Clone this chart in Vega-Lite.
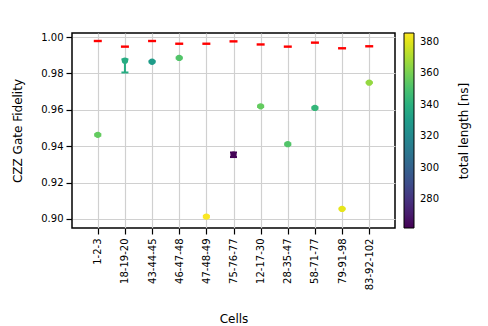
{
  "$schema": "https://vega.github.io/schema/vega-lite/v6.json",
  "autosize": "none",
  "width": 323,
  "height": 195,
  "padding": {"left": 72, "top": 33, "right": 93, "bottom": 98},
  "background": "white",
  "config": {
    "font": "DejaVu Sans",
    "view": {"stroke": "black", "strokeWidth": 1.5},
    "axis": {"labelFont": "DejaVu Sans", "titleFont": "DejaVu Sans", "labelColor": "black", "titleColor": "black", "titleFontWeight": "normal", "tickColor": "black", "domain": false, "gridColor": "#d0d0d0", "gridWidth": 1.2},
    "axisY": {"title": "CZZ Gate Fidelity", "titleFontSize": 12, "titlePadding": 16, "labelFontSize": 10, "labelPadding": 3,
            "values": [0.895, 0.9, 0.905, 0.91, 0.915, 0.92, 0.925, 0.93, 0.935, 0.94, 0.945, 0.95, 0.955, 0.96, 0.965, 0.97, 0.975, 0.98, 0.985, 0.99, 0.995, 1.0],
            "labelExpr": "abs(datum.value*50 - round(datum.value*50)) < 0.001 ? format(datum.value, '.2f') : ''",
            "tickSize": {"condition": {"test": "abs(datum.value*50 - round(datum.value*50)) < 0.001", "value": 6}, "value": 3},
            "tickWidth": 1.2},
    "legend": {"labelFont": "DejaVu Sans", "titleFont": "DejaVu Sans"}
  },
  "data": {"values": [
    {"cell": "1-2-3", "fid": 0.9462, "lo": 0.9458, "hi": 0.9466, "len": 356, "ideal": 0.9978},
    {"cell": "18-19-20", "fid": 0.9870, "lo": 0.9805, "hi": 0.9877, "len": 338, "ideal": 0.9947},
    {"cell": "43-44-45", "fid": 0.9864, "lo": 0.9861, "hi": 0.9868, "len": 330, "ideal": 0.9978},
    {"cell": "46-47-48", "fid": 0.9885, "lo": 0.9882, "hi": 0.9888, "len": 352, "ideal": 0.9963},
    {"cell": "47-48-49", "fid": 0.9013, "lo": 0.9008, "hi": 0.9017, "len": 385, "ideal": 0.9963},
    {"cell": "75-76-77", "fid": 0.9353, "lo": 0.9340, "hi": 0.9365, "len": 262, "ideal": 0.9976},
    {"cell": "12-17-30", "fid": 0.9619, "lo": 0.9615, "hi": 0.9623, "len": 356, "ideal": 0.9959},
    {"cell": "28-35-47", "fid": 0.9411, "lo": 0.9407, "hi": 0.9415, "len": 352, "ideal": 0.9947},
    {"cell": "58-71-77", "fid": 0.9610, "lo": 0.9606, "hi": 0.9614, "len": 344, "ideal": 0.9969},
    {"cell": "79-91-98", "fid": 0.9055, "lo": 0.9053, "hi": 0.9058, "len": 381, "ideal": 0.9938},
    {"cell": "83-92-102", "fid": 0.9749, "lo": 0.9747, "hi": 0.9752, "len": 366, "ideal": 0.9949}
  ]},
  "encoding": {
    "x": {"field": "cell", "type": "ordinal", "sort": null,
      "scale": {"type": "point", "padding": 0.95},
      "axis": {"title": "Cells", "titleFontSize": 12, "titlePadding": 24, "labelAngle": -90, "labelFontSize": 10, "labelPadding": 4, "tickSize": 6, "tickWidth": 1.2, "grid": true}},
    "color": {"field": "len", "type": "quantitative",
      "scale": {"scheme": "viridis", "domain": [261.5, 385.7], "nice": false},
      "legend": {"type": "gradient", "direction": "vertical", "title": "total length [ns]", "titleOrient": "right", "titleAnchor": "middle", "titlePadding": 20, "titleFontSize": 12, "titleFontWeight": "normal", "titleColor": "black", "labelColor": "black", "labelFontSize": 10, "gradientLength": 195, "gradientThickness": 10, "gradientStrokeColor": "black", "gradientStrokeWidth": 1, "offset": 9, "padding": 0, "values": [280, 300, 320, 340, 360, 380], "labelOffset": 6,
        "encoding": {"title": {"angle": {"value": 270}, "baseline": {"value": "top"}, "align": {"value": "center"}}, "gradient": {"opacity": {"value": 1}}}}}
  },
  "layer": [
    {
      "mark": {"type": "bar", "size": 2, "opacity": 1},
      "encoding": {
        "y": {"field": "lo", "type": "quantitative", "title": "CZZ Gate Fidelity",
          "scale": {"domain": [0.895, 1.0022], "nice": false, "zero": false}},
        "y2": {"field": "hi"}
      }
    },
    {
      "mark": {"type": "tick", "orient": "horizontal", "size": 7, "thickness": 2, "opacity": 1},
      "encoding": {"y": {"field": "lo", "type": "quantitative", "title": "CZZ Gate Fidelity"}}
    },
    {
      "mark": {"type": "tick", "orient": "horizontal", "size": 7, "thickness": 2, "opacity": 1},
      "encoding": {"y": {"field": "hi", "type": "quantitative", "title": "CZZ Gate Fidelity"}}
    },
    {
      "mark": {"type": "circle", "size": 40, "opacity": 1},
      "encoding": {"y": {"field": "fid", "type": "quantitative", "title": "CZZ Gate Fidelity"}}
    },
    {
      "mark": {"type": "tick", "orient": "horizontal", "size": 8, "thickness": 2.4, "color": "red", "opacity": 1},
      "encoding": {"y": {"field": "ideal", "type": "quantitative", "title": "CZZ Gate Fidelity"}, "color": {"value": "red"}}
    }
  ]
}
